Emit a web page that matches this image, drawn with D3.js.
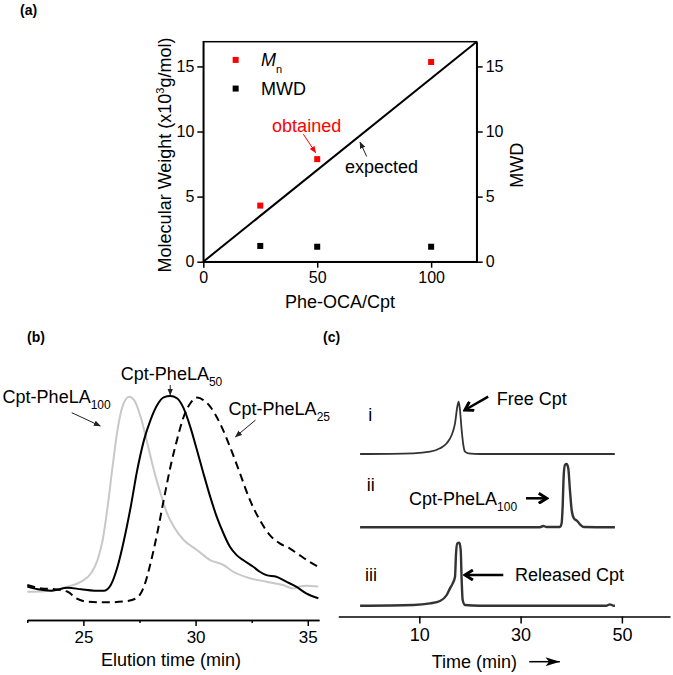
<!DOCTYPE html>
<html>
<head>
<meta charset="utf-8">
<script src="https://cdn.jsdelivr.net/npm/d3@7"></script>
<style>
  body { margin: 0; background: #fff; }
  text { font-family: "Liberation Sans", Arial, sans-serif; }
</style>
</head>
<body>
<div class="fig"></div>
<script>
// ---- panel (a) data ----
let ratio = [25, 50, 100]
let mnValues = [4.31, 7.88, 15.34]
let mwdValues = [1.21, 1.15, 1.15]
let expectedX = [0, 120]
let expectedY = [0, 16.9]
let aTicks = [0, 50, 100]
let aYTicks = [0, 5, 10, 15]

// ---- panel (b) data: GPC traces (elution time, normalised signal) ----
let t100 = [22.5, 23.57, 24.3, 24.9, 25.34, 25.63, 25.86, 26.08, 26.3, 26.52, 26.74, 27.04, 27.26, 27.55, 27.85, 28.14, 28.44, 28.73, 29.03, 29.47, 30.06, 30.65, 31.24, 31.68, 32.42, 33.16, 33.89, 34.34, 34.63, 34.93, 35.47]
let s100 = [13.3, 13.8, 15.6, 17.8, 21.5, 27.4, 36.3, 51.1, 68.9, 85.2, 95.6, 100, 98.5, 91.1, 79.3, 67.4, 57, 48.1, 42.2, 36.3, 31.9, 27.4, 25.2, 22.2, 19.3, 17.8, 16.3, 14.8, 15.6, 16, 15.6]
let t50 = [22.5, 22.98, 23.57, 24.3, 24.9, 25.49, 25.93, 26.22, 26.52, 26.81, 27.11, 27.4, 27.7, 27.99, 28.29, 28.58, 28.88, 29.17, 29.47, 29.76, 30.06, 30.35, 30.65, 30.94, 31.24, 31.53, 31.83, 32.12, 32.57, 32.86, 33.16, 33.6, 34.04, 34.48, 34.93, 35.47]
let s50 = [15.6, 14.4, 13.8, 15.1, 14.4, 13.8, 13.8, 16.3, 24.4, 36.3, 51.1, 67.4, 80.7, 89.6, 96.3, 99.7, 100.3, 99.3, 94.8, 86.7, 76.3, 65.9, 55.6, 46.7, 39.3, 33.3, 29.6, 27.4, 24.4, 22.2, 20.7, 20, 17.8, 15.6, 12.6, 10.4]
let t25 = [22.5, 23.13, 23.72, 24.3, 24.68, 25.19, 26.08, 26.96, 27.4, 27.7, 27.99, 28.29, 28.58, 28.88, 29.17, 29.47, 29.76, 30.06, 30.35, 30.65, 31.09, 31.53, 31.98, 32.42, 32.86, 33.31, 33.75, 34.19, 34.63, 35.07, 35.47]
let s25 = [16.3, 14.8, 14.4, 13.3, 10.4, 8.9, 8.6, 9.2, 10.7, 15.6, 25.9, 39.3, 54.1, 68.9, 80.7, 91.1, 97, 99.6, 98.5, 95.6, 88.1, 77.8, 65.9, 54.1, 45.2, 38.5, 34.8, 32.6, 29.6, 26.7, 24.4]
let bTicks = [25, 30, 35]
let bMinor = [22.5, 27.5, 32.5]

// ---- panel (c) data: HPLC traces ----
let tI = [-1.7, 8.83, 12.11, 14.09, 15.41, 16.39, 17.05, 17.5, 17.77, 18.03, 18.36, 18.69, 19.02, 19.68, 21.98, 48.6]
let sI = [0, 0.7, 2.3, 5.7, 10.7, 19, 30.7, 47.3, 52.3, 44, 24, 9, 2.3, 0.7, 0, 0]
let tII = [-1.7, 33.82, 34.47, 35.14, 37.77, 38.1, 38.3, 38.5, 38.75, 39.09, 39.41, 39.74, 40.08, 40.53, 41.18, 41.85, 42.5, 48.62]
let sII = [0, 0, 1.3, 0.3, 0.3, 4, 20.7, 50.7, 62.3, 63.3, 59, 37.3, 17.3, 9, 6.3, 2.3, 0.3, 0]
let tIII = [-1.7, 8.83, 12.11, 14.09, 15.41, 16.06, 16.59, 17.05, 17.25, 17.5, 17.9, 18.17, 18.36, 18.56, 19.02, 21.98, 46.98, 47.64, 48.3, 48.62]
let sIII = [0, 0.7, 2.3, 4.7, 10.7, 17.3, 22.3, 29, 52.3, 62.3, 63, 55.7, 25.7, 5.7, 0.7, 0, 0, 1.3, 0, 0]
let traceOffset = [162, 88.7, 10.3]
let traceNames = ["i", "ii", "iii"]
let cTicks = [10, 30, 50]

let w = 673
let h = 675
let svg = d3.select(".fig").append("svg").attr("width", w).attr("height", h)

let defs = svg.append("defs")
defs.append("marker").attr("id", "thinred").attr("viewBox", "0 0 10 10")
  .attr("refX", 9).attr("refY", 5).attr("markerWidth", 7).attr("markerHeight", 7)
  .attr("orient", "auto").attr("markerUnits", "userSpaceOnUse")
  .append("path").attr("d", "M0,1 L10,5 L0,9 Z").attr("fill", "red")
defs.append("marker").attr("id", "thinblk").attr("viewBox", "0 0 10 10")
  .attr("refX", 9).attr("refY", 5).attr("markerWidth", 7).attr("markerHeight", 7)
  .attr("orient", "auto").attr("markerUnits", "userSpaceOnUse")
  .append("path").attr("d", "M0,1 L10,5 L0,9 Z").attr("fill", "#222")
defs.append("marker").attr("id", "vee").attr("viewBox", "0 0 12 12")
  .attr("refX", 10).attr("refY", 6).attr("markerWidth", 12).attr("markerHeight", 12)
  .attr("orient", "auto").attr("markerUnits", "userSpaceOnUse")
  .append("path").attr("d", "M2,1 L10,6 L2,11").attr("fill", "none")
  .attr("stroke", "#000").attr("stroke-width", 3)
defs.append("marker").attr("id", "big").attr("viewBox", "0 0 16 10")
  .attr("refX", 16).attr("refY", 5).attr("markerWidth", 18).attr("markerHeight", 9)
  .attr("orient", "auto").attr("markerUnits", "userSpaceOnUse")
  .append("path").attr("d", "M0,0 L16,5 L0,10 L4,5 Z").attr("fill", "#000")

function label(g, txt, x, y, opts) {
  return g.append("text").attr("x", x).attr("y", y).attr("dy", "0.35em")
    .attr("font-size", (opts && opts.size) || 18).attr("fill", (opts && opts.fill) || "#000")
    .attr("font-weight", (opts && opts.weight) || "normal")
    .attr("text-anchor", (opts && opts.anchor) || "start").text(txt)
}
function arrow(g, x1, y1, x2, y2, marker, width, color) {
  g.append("line").attr("x1", x1).attr("y1", y1).attr("x2", x2).attr("y2", y2)
    .attr("stroke", color || "#000").attr("stroke-width", width)
    .attr("marker-end", "url(#" + marker + ")")
}
function styleAxis(g, size) {
  g.selectAll("text").attr("font-size", size).attr("fill", "#000")
    .style("font-family", "'Liberation Sans', Arial, sans-serif")
  g.selectAll("path, line").attr("stroke", "#000").attr("stroke-width", 1.5)
}

// ================= (a) =================
let ga = svg.append("g")
label(ga, "(a)", 20, 10, {size: 14, weight: "bold"})
let xa = d3.scaleLinear().domain([0, 120]).range([203.3, 476.7])
let ya = d3.scaleLinear().domain([0, 16.9]).range([261.7, 41.7])

ga.append("rect").attr("x", xa(0)).attr("y", ya(16.9))
  .attr("width", xa(120) - xa(0)).attr("height", ya(0) - ya(16.9))
  .attr("fill", "none").attr("stroke", "#000").attr("stroke-width", 1.5)

let axA = ga.append("g").attr("transform", "translate(0," + ya(0) + ")")
  .call(d3.axisBottom(xa).tickValues(aTicks).tickSize(6).tickSizeOuter(0).tickPadding(4))
styleAxis(axA, 16)
let ayL = ga.append("g").attr("transform", "translate(" + xa(0) + ",0)")
  .call(d3.axisLeft(ya).tickValues(aYTicks).tickSize(6).tickSizeOuter(0).tickPadding(3))
styleAxis(ayL, 16)
let ayR = ga.append("g").attr("transform", "translate(" + xa(120) + ",0)")
  .call(d3.axisRight(ya).tickValues(aYTicks).tickSize(6).tickSizeOuter(0).tickPadding(3))
styleAxis(ayR, 16)

ga.append("path")
  .datum(d3.zip(expectedX, expectedY))
  .attr("d", d3.line().x(d => xa(d[0])).y(d => ya(d[1])))
  .attr("fill", "none").attr("stroke", "#000").attr("stroke-width", 2)

let sq = 6
ga.selectAll(".mn").data(d3.zip(ratio, mnValues)).enter().append("rect")
  .attr("x", d => xa(d[0]) - sq / 2).attr("y", d => ya(d[1]) - sq / 2)
  .attr("width", sq).attr("height", sq).attr("fill", "#ff0000")
ga.selectAll(".mwd").data(d3.zip(ratio, mwdValues)).enter().append("rect")
  .attr("x", d => xa(d[0]) - sq / 2).attr("y", d => ya(d[1]) - sq / 2)
  .attr("width", sq).attr("height", sq).attr("fill", "#000")

// legend
ga.append("rect").attr("x", xa(14.2) - sq / 2).attr("y", ya(15.5) - sq / 2)
  .attr("width", sq).attr("height", sq).attr("fill", "#ff0000")
ga.append("rect").attr("x", xa(14.2) - sq / 2).attr("y", ya(13.3) - sq / 2)
  .attr("width", sq).attr("height", sq).attr("fill", "#000")
let mn = label(ga, "", xa(25.3), ya(15.55), {})
mn.append("tspan").attr("font-style", "italic").text("M")
mn.append("tspan").attr("font-size", 11).attr("dy", 7).text("n")
label(ga, "MWD", xa(25.3), ya(13.3), {})

// annotations
label(ga, "obtained", xa(30.2), ya(10.46), {fill: "#ff0000"})
arrow(ga, xa(43.9), ya(9.8), xa(49.3), ya(8.38), "thinred", 1, "#ff0000")
label(ga, "expected", xa(62.2), ya(7.31), {})
arrow(ga, xa(71.7), ya(8.08), xa(68.8), ya(9.18), "thinblk", 1, "#222")

let ta = ga.append("text").attr("transform", "translate(165," + ya(8.2) + ") rotate(-90)")
  .attr("dy", "0.35em").attr("text-anchor", "middle").attr("font-size", 18)
ta.append("tspan").text("Molecular Weight (x10")
ta.append("tspan").attr("font-size", 11).attr("dy", -7).text("3")
ta.append("tspan").attr("dy", 7).text("g/mol)")
label(ga, "Phe-OCA/Cpt", xa(60), 301.7, {anchor: "middle"})
ga.append("text").attr("transform", "translate(517," + ya(7.4) + ") rotate(-90)")
  .attr("dy", "0.35em").attr("text-anchor", "middle").attr("font-size", 18).text("MWD")

// ================= (b) =================
let gb = svg.append("g")
label(gb, "(b)", 27, 336.7, {size: 14, weight: "bold"})
let xb = d3.scaleLinear().domain([22.5, 35.5]).range([27.3, 319])
let yb = d3.scaleLinear().domain([0, 100]).range([621.7, 396.7])

let axB = gb.append("g").attr("transform", "translate(0,620)")
  .call(d3.axisBottom(xb).tickValues(bTicks).tickSize(6).tickSizeOuter(0).tickPadding(5))
styleAxis(axB, 17)
gb.append("g").attr("transform", "translate(0,620)")
  .call(d3.axisBottom(xb).tickValues(bMinor).tickSize(3).tickSizeOuter(0).tickFormat(""))
  .call(g => g.selectAll("path, line").attr("stroke", "#000").attr("stroke-width", 1.5))

let lineB = d3.line().x(d => xb(d[0])).y(d => yb(d[1])).curve(d3.curveMonotoneX)
gb.append("path").datum(d3.zip(t100, s100)).attr("d", lineB)
  .attr("fill", "none").attr("stroke", "#c8c8c8").attr("stroke-width", 2)
gb.append("path").datum(d3.zip(t25, s25)).attr("d", lineB)
  .attr("fill", "none").attr("stroke", "#000").attr("stroke-width", 2)
  .attr("stroke-dasharray", "8,5")
gb.append("path").datum(d3.zip(t50, s50)).attr("d", lineB)
  .attr("fill", "none").attr("stroke", "#000").attr("stroke-width", 2)

let l100 = label(gb, "Cpt-PheLA", xb(21.4), yb(99.9), {})
l100.append("tspan").attr("font-size", 12).attr("dy", 6).text("100")
arrow(gb, xb(24.48), yb(92.9), xb(25.75), yb(87.0), "thinblk", 1, "#222")
let l50 = label(gb, "Cpt-PheLA", xb(26.67), yb(110.4), {})
l50.append("tspan").attr("font-size", 12).attr("dy", 6).text("50")
arrow(gb, xb(28.87), yb(105.2), xb(28.87), yb(100.8), "thinblk", 1, "#222")
let l25 = label(gb, "Cpt-PheLA", xb(31.47), yb(94.8), {})
l25.append("tspan").attr("font-size", 12).attr("dy", 6).text("25")
arrow(gb, xb(32.67), yb(89.6), xb(31.78), yb(82.2), "thinblk", 1, "#222")
label(gb, "Elution time (min)", xb(28.9), 660, {anchor: "middle"})

// ================= (c) =================
let gc = svg.append("g")
label(gc, "(c)", 323, 336.7, {size: 14, weight: "bold"})
let xc = d3.scaleLinear().domain([-6, 59.5]).range([338.3, 670])
let yc = d3.scaleLinear().domain([0, 216]).range([616, 400])

let axC = gc.append("g").attr("transform", "translate(0,616.5)")
  .call(d3.axisBottom(xc).tickValues(cTicks).tickSize(7).tickSizeOuter(0).tickPadding(5))
styleAxis(axC, 18)

let traces = [d3.zip(tI, sI), d3.zip(tII, sII), d3.zip(tIII, sIII)]
traces.forEach(function(tr, i) {
  let line = d3.line().x(d => xc(d[0])).y(d => yc(d[1] + traceOffset[i])).curve(d3.curveMonotoneX)
  gc.append("path").datum(tr).attr("d", line)
    .attr("fill", "none").attr("stroke", "#333").attr("stroke-width", i == 0 ? 1.8 : 2.4)
})

label(gc, traceNames[0], xc(-0.08), yc(201), {})
label(gc, traceNames[1], xc(-0.39), yc(131), {})
label(gc, traceNames[2], xc(-0.73), yc(41), {})

label(gc, "Free Cpt", xc(25.28), yc(217.7), {})
arrow(gc, xc(23.6), yc(219.3), xc(19.0), yc(206), "vee", 2.5)
let lc = label(gc, "Cpt-PheLA", xc(7.96), yc(117.7), {})
lc.append("tspan").attr("font-size", 12).attr("dy", 6).text("100")
arrow(gc, xc(31.07), yc(117.7), xc(35.16), yc(117.7), "vee", 2.5)
label(gc, "Released Cpt", xc(28.9), yc(41), {})
arrow(gc, xc(26.58), yc(41), xc(19.0), yc(41), "vee", 2.5)

label(gc, "Time (min)", xc(12.44), 661.7, {})
arrow(gc, xc(31.7), 661.7, xc(37.75), 661.7, "big", 1.5)
</script>
</body>
</html>
